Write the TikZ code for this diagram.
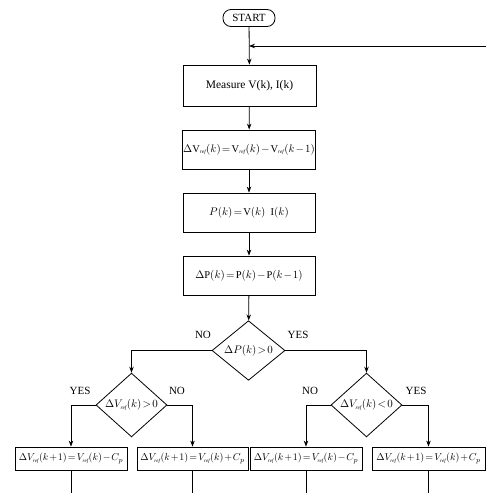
\documentclass[tikz,border=0pt]{standalone}
\usepackage{fontspec}
\setmainfont{Liberation Serif}
\usetikzlibrary{shapes.geometric,arrows.meta}
\newcommand{\rf}{_{\scriptscriptstyle \mathit{ref}}}
\newcommand{\tightmath}{\thickmuskip=2mu plus 1mu\medmuskip=1.5mu}
\tikzset{
  box/.style={draw, line width=0.8pt, minimum width=132pt, minimum height=39pt, inner sep=1pt, font=\fontsize{10.5}{13}\selectfont\tightmath},
  sbox/.style={draw, line width=0.8pt, minimum width=112pt, minimum height=23pt, inner sep=0pt, font=\fontsize{10}{12}\selectfont\tightmath},
  dec/.style={draw, diamond, line width=0.8pt, inner sep=0pt, minimum width=72pt, minimum height=60pt, font=\fontsize{10.5}{12}\selectfont\tightmath},
  term/.style={draw, line width=0.8pt, rounded corners=8pt, minimum width=52pt, minimum height=17pt, inner sep=1pt, font=\fontsize{11}{13}\selectfont},
  lbl/.style={font=\fontsize{11}{13}\selectfont},
  conn/.style={line width=0.8pt},
  arr/.style={line width=0.8pt, -{Stealth[length=6pt,width=4.5pt]}}
}
\begin{document}
\begin{tikzpicture}[x=1pt,y=-1pt]
\useasboundingbox (0,0) rectangle (486,493);
\node[term] (start) at (249,18) {START};
\node[box, minimum width=133pt, minimum height=41pt, font=\fontsize{11.5}{13}\selectfont] (m1) at (249.5,85.5) {Measure V(k), I(k)};
\node[box] (m2) at (249,149.5) {$\Delta\mathrm{V}\rf(k)=\mathrm{V}\rf(k)-\mathrm{V}\rf(k-1)$};
\node[box] (m3) at (249,212.5) {$P(k)=\mathrm{V}(k)\ \ \mathrm{I}(k)$};
\node[box] (m4) at (249,275.5) {$\Delta\mathrm{P}(k)=\mathrm{P}(k)-\mathrm{P}(k-1)$};
\node[dec, minimum width=73pt, minimum height=59pt] (d1) at (248.5,350.5) {$\Delta P(k)>0$};
\node[dec, minimum width=71pt] (d2) at (131.5,405) {$\Delta V\rf(k)>0$};
\node[dec, minimum width=71pt, minimum height=62pt] (d3) at (366.5,405) {$\Delta V\rf(k)<0$};
\node[sbox] (b1) at (71,458.5) {$\Delta V\rf(k+1)=V\rf(k)-C_p$};
\node[sbox, minimum width=111pt] (b2) at (192.5,458.5) {$\Delta V\rf(k+1)=V\rf(k)+C_p$};
\node[sbox] (b3) at (306,458.5) {$\Delta V\rf(k+1)=V\rf(k)-C_p$};
\node[sbox, minimum width=113pt] (b4) at (428.5,458.5) {$\Delta V\rf(k+1)=V\rf(k)+C_p$};
\coordinate (fb) at (486,46);
\coordinate (e1) at (71,493);
\coordinate (e2) at (192.5,493);
\coordinate (e3) at (306,493);
\coordinate (e4) at (428.5,493);
\node[lbl] (no1) at (203,335) {NO};
\node[lbl] (yes1) at (298,335) {YES};
\node[lbl] (yes2) at (80,391) {YES};
\node[lbl] (no2) at (177,391) {NO};
\node[lbl] (no3) at (310,391) {NO};
\node[lbl] (yes3) at (416,391) {YES};
\draw[arr] (start) -- (m1);
\draw[arr] (fb) -- (start.south |- fb);
\draw[arr] (m1) -- (m2);
\draw[arr] (m2) -- (m3);
\draw[arr] (m3) -- (m4);
\draw[arr] (m4) -- (d1);
\draw[arr] (d1.west) -| (d2.north);
\draw[arr] (d1.east) -| (d3.north);
\draw[arr] (d2.west) -| (b1.north);
\draw[arr] (d2.east) -| (b2.north);
\draw[arr] (d3.west) -| (b3.north);
\draw[arr] (d3.east) -| (b4.north);
\draw[conn] (b1) -- (e1);
\draw[conn] (b2) -- (e2);
\draw[conn] (b3) -- (e3);
\draw[conn] (b4) -- (e4);
\end{tikzpicture}
\end{document}
